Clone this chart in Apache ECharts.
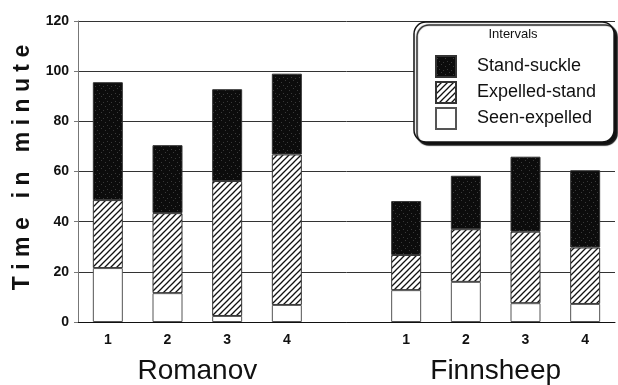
<!DOCTYPE html>
<html>
<head>
<meta charset="utf-8">
<script src="https://cdn.jsdelivr.net/npm/echarts@6/dist/echarts.min.js"></script>
<style>
  html, body { margin: 0; padding: 0; background: #fff; }
  #container { width: 618px; height: 385px; }
</style>
</head>
<body>
<div id="container"></div>
<script>
// lambs 1-4 of each breed, a blank slot separates the two breeds
var categories = ['1', '2', '3', '4', '', '1', '2', '3', '4'];
var groups = ['Romanov', 'Finnsheep'];
var seenExpelled = [21.5, 11.5, 2.4, 6.8, '-', 12.7, 16.0, 7.5, 7.2];
var expelledStand = [27.1, 31.9, 53.8, 60.0, '-', 14.0, 21.0, 28.5, 22.5];
var standSuckle = [47.0, 27.1, 36.6, 32.2, '-', 21.5, 21.3, 29.9, 30.8];
var yTicks = [0, 20, 40, 60, 80, 100, 120];

// diagonal hatch for the middle interval
function hatch() {
    var c = document.createElement('canvas');
    c.width = 6; c.height = 6;
    var g = c.getContext('2d');
    g.fillStyle = '#fff';
    g.fillRect(0, 0, 6, 6);
    g.strokeStyle = '#111';
    g.lineWidth = 1.3;
    g.beginPath();
    g.moveTo(-1, 7); g.lineTo(7, -1);
    g.moveTo(-1, 1); g.lineTo(1, -1);
    g.moveTo(5, 7); g.lineTo(7, 5);
    g.stroke();
    return c;
}
// black fill with a faint grey speckle, like the scanned original
function speckle() {
    var c = document.createElement('canvas');
    c.width = 8; c.height = 8;
    var g = c.getContext('2d');
    g.fillStyle = '#0c0c0c';
    g.fillRect(0, 0, 8, 8);
    g.fillStyle = '#3a3a3a';
    g.fillRect(1, 2, 1, 1);
    g.fillRect(5, 0, 1, 1);
    g.fillRect(3, 5, 1, 1);
    g.fillRect(7, 6, 1, 1);
    return c;
}
var hatchFill = { image: hatch(), repeat: 'repeat' };
var darkFill = { image: speckle(), repeat: 'repeat' };

var font = 'Arial, "Liberation Sans", sans-serif';

var option = {
    backgroundColor: '#fff',
    animation: false,
    grid: { left: 78, right: 0, top: 21, bottom: 63 },
    legend: {
        orient: 'vertical',
        left: 414,
        top: 22,
        padding: [33, 18, 12, 21],
        icon: 'rect',
        itemWidth: 20,
        itemHeight: 21,
        itemGap: 3,
        data: ['Stand-suckle', 'Expelled-stand', 'Seen-expelled'],
        backgroundColor: '#fff',
        borderColor: '#111',
        borderWidth: 1.5,
        borderRadius: 12,
        shadowColor: '#111',
        shadowBlur: 1,
        shadowOffsetX: 3,
        shadowOffsetY: 3,
        textStyle: { fontFamily: font, fontSize: 18, color: '#111', padding: [0, 0, 0, 16] }
    },
    graphic: [{
        type: 'text',
        x: 513,
        y: 34,
        z: 100,
        style: {
            text: 'Intervals',
            font: '13px ' + font,
            fill: '#111',
            textAlign: 'center',
            textVerticalAlign: 'middle'
        }
    }],
    xAxis: [{
        type: 'category',
        data: categories,
        axisLine: { lineStyle: { color: '#111', width: 1 } },
        axisTick: { alignWithLabel: true, length: 5, lineStyle: { color: '#111' } },
        axisLabel: { fontFamily: font, fontSize: 14, fontWeight: 'bold', color: '#111', margin: 11 }
    }, {
        type: 'value',
        position: 'bottom',
        min: -0.5,
        max: 8.5,
        interval: 1,
        axisLine: { show: false },
        axisTick: { show: false },
        splitLine: { show: false },
        axisLabel: {
            margin: 35,
            fontFamily: font,
            fontSize: 28,
            color: '#111',
            formatter: function (v) {
                if (Math.abs(v - 1.5) < 0.01) return groups[0];
                if (Math.abs(v - 6.5) < 0.01) return groups[1];
                return '';
            }
        }
    }],
    yAxis: {
        type: 'value',
        min: yTicks[0],
        max: yTicks[yTicks.length - 1],
        interval: 20,
        name: 'T i m e   i n   m i n u t e',
        nameLocation: 'middle',
        nameGap: 44,
        nameTextStyle: { fontFamily: font, fontSize: 23, fontWeight: 'bold', color: '#111', padding: [0, 0, 0, 8] },
        axisLine: { show: true, onZero: false, lineStyle: { color: '#777' } },
        axisTick: { show: true, length: 4, lineStyle: { color: '#777' } },
        axisLabel: { fontFamily: font, fontSize: 14, fontWeight: 'bold', color: '#111', margin: 9 },
        splitLine: { lineStyle: { color: '#333', width: 1 } }
    },
    series: [{
        name: 'Seen-expelled',
        type: 'bar',
        stack: 'total',
        barWidth: 30,
        data: seenExpelled,
        itemStyle: { color: '#fff', borderColor: '#555', borderWidth: 1 }
    }, {
        name: 'Expelled-stand',
        type: 'bar',
        stack: 'total',
        barWidth: 30,
        data: expelledStand,
        itemStyle: { color: hatchFill, borderColor: '#333', borderWidth: 1 }
    }, {
        name: 'Stand-suckle',
        type: 'bar',
        stack: 'total',
        barWidth: 30,
        data: standSuckle,
        itemStyle: { color: darkFill, borderColor: '#333', borderWidth: 1 }
    }]
};

var myChart = echarts.init(document.getElementById('container'));
myChart.setOption(option);
</script>
</body>
</html>
